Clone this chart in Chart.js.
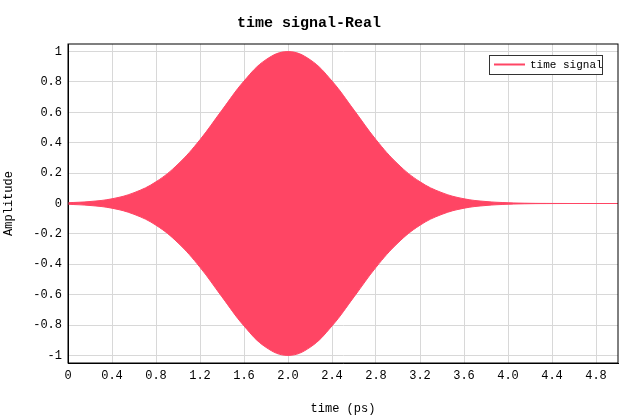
<!DOCTYPE html>
<html>
<head>
<meta charset="utf-8">
<script src="https://cdn.jsdelivr.net/npm/chart.js@4/dist/chart.umd.min.js"></script>
<style>
  html, body { margin: 0; padding: 0; background: #fff; }
  #wrap { width: 640px; height: 418px; }
</style>
</head>
<body>
<div id="wrap"><canvas id="c"></canvas></div>
<script>
// envelope of the signal (time in ps)
var times    = [0, 0.2, 0.4, 0.6, 0.8, 1.0, 1.2, 1.4, 1.6, 1.8, 2.0, 2.2, 2.4, 2.6, 2.8, 3.0, 3.2, 3.4, 3.6, 3.8, 4.0, 4.2, 4.4, 4.6, 4.8, 5.0];
var envUpper = [0.005, 0.013, 0.031, 0.071, 0.143, 0.259, 0.42, 0.615, 0.806, 0.947, 1.0, 0.947, 0.806, 0.615, 0.42, 0.259, 0.143, 0.071, 0.031, 0.013, 0.005, 0.0014, 0.0004, 0, 0, 0];
var envLower = envUpper.map(function(v) { return -v; });
var xTicks   = [0, 0.4, 0.8, 1.2, 1.6, 2, 2.4, 2.8, 3.2, 3.6, 4, 4.4, 4.8];

var red  = 'rgb(255,69,100)';
var font = 'Liberation Mono, DejaVu Sans Mono, monospace';

function pts(ys) { return times.map(function(t, i) { return { x: t, y: ys[i] }; }); }

var legendBox = {
  id: 'legendBox',
  afterDraw: function(chart) {
    var ctx = chart.ctx;
    ctx.save();
    ctx.fillStyle = '#fff';
    ctx.fillRect(489, 55, 113, 19);
    ctx.strokeStyle = '#333';
    ctx.lineWidth = 1;
    ctx.strokeRect(489.5, 55.5, 113, 19);
    ctx.strokeStyle = red;
    ctx.lineWidth = 2;
    ctx.beginPath(); ctx.moveTo(494, 64.5); ctx.lineTo(525, 64.5); ctx.stroke();
    ctx.fillStyle = '#000';
    ctx.font = '11px ' + font;
    ctx.textBaseline = 'middle';
    ctx.fillText('time signal', 530, 65);
    ctx.restore();
  }
};

new Chart(document.getElementById('c').getContext('2d'), {
  type: 'line',
  data: {
    datasets: [
      { label: 'time signal', data: pts(envUpper), borderColor: red, backgroundColor: red,
        borderWidth: 1, pointRadius: 0, tension: 0.4, fill: '+1' },
      { label: 'lower', data: pts(envLower), borderColor: red, backgroundColor: red,
        borderWidth: 1, pointRadius: 0, tension: 0.4, fill: false }
    ]
  },
  options: {
    responsive: true,
    maintainAspectRatio: false,
    animation: false,
    layout: { padding: { left: 0, right: 22, top: 0, bottom: 0 } },
    plugins: {
      legend: { display: false },
      tooltip: { enabled: false },
      title: { display: true, text: 'time signal-Real', color: '#000',
               font: { family: font, size: 15, weight: 'bold' }, padding: { top: 14, bottom: 12 } }
    },
    scales: {
      x: {
        type: 'linear', min: 0, max: 5,
        afterBuildTicks: function(s) { s.ticks = xTicks.map(function(v) { return { value: v }; }); },
        afterFit: function(s) { s.height = 55; },
        border: { color: '#000' },
        grid: { color: '#d8d8d8', drawTicks: false },
        ticks: { color: '#000', font: { family: font, size: 12 }, padding: 6 },
        title: { display: true, text: 'time (ps)', color: '#000', font: { family: font, size: 12 }, padding: 2 }
      },
      y: {
        min: -1.05, max: 1.05,
        afterBuildTicks: function(s) {
          var t = [];
          for (var i = -5; i <= 5; i++) t.push({ value: i / 5 });
          s.ticks = t;
        },
        afterFit: function(s) { s.width = 68; },
        border: { color: '#000' },
        grid: { color: '#d8d8d8', drawTicks: false },
        ticks: { color: '#000', font: { family: font, size: 12 }, padding: 6,
                 callback: function(v) { return Math.round(v * 10) / 10; } },
        title: { display: true, text: 'Amplitude', color: '#000', font: { family: font, size: 12 }, padding: 2 }
      }
    }
  },
  plugins: [legendBox, {
    id: 'frame',
    afterDraw: function(chart) {
      var a = chart.chartArea, ctx = chart.ctx;
      ctx.save(); ctx.strokeStyle = '#000'; ctx.lineWidth = 1;
      ctx.strokeRect(a.left, a.top, a.right - a.left, a.bottom - a.top);
      ctx.restore();
    }
  }]
});
</script>
</body>
</html>
